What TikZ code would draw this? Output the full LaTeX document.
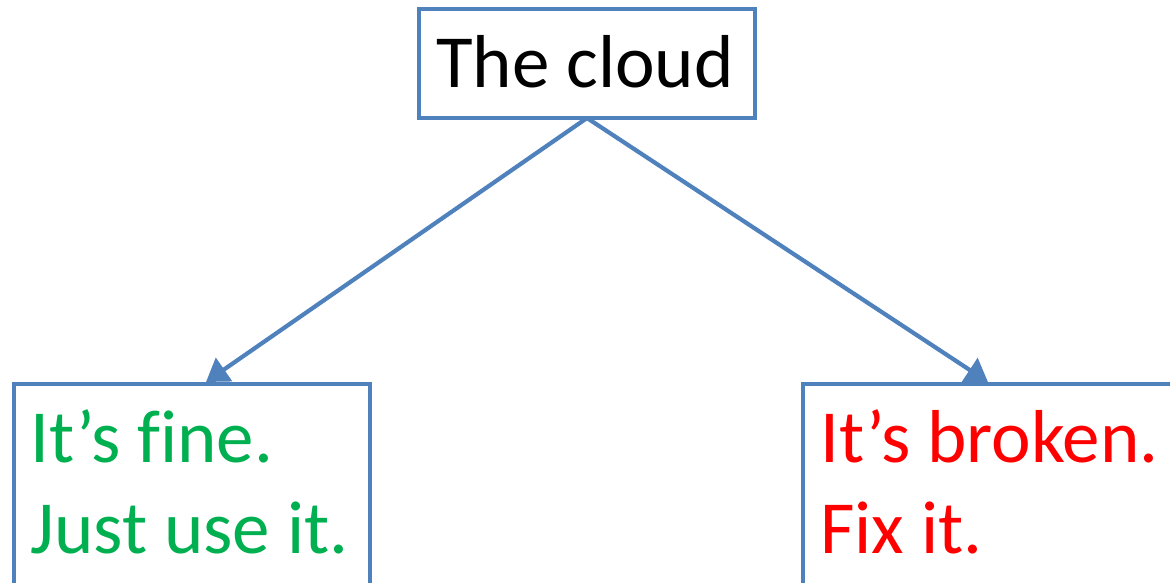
\documentclass[tikz,border=0pt]{standalone}
\usepackage{fontspec}
\setmainfont[Ligatures=NoCommon]{Carlito}
\usetikzlibrary{arrows.meta}
\definecolor{boxblue}{RGB}{79,129,189}
\definecolor{okgreen}{RGB}{0,176,80}
\definecolor{badred}{RGB}{255,0,0}
\tikzset{
  frame/.style={draw=boxblue, line width=4.2pt, fill=white, inner sep=0pt, outer sep=0pt},
  conn/.style={draw=boxblue, line width=4.2pt, -{Triangle[length=22pt,width=28pt]}},
  bigtext/.style={inner sep=0pt, font=\fontsize{75}{90}\selectfont},
  smalltext/.style={inner sep=0pt, anchor=base west, font=\fontsize{75}{91}\selectfont}
}
\begin{document}
\begin{tikzpicture}[x=1pt,y=1pt]
\useasboundingbox (0,0) rectangle (1170,-583);
\begin{scope}
\clip (0,0) rectangle (1170,-583);
\node[frame, minimum width=336pt, minimum height=109pt] (top) at (587,-63.5) {};
\node[frame, anchor=north west, minimum width=356pt, minimum height=260pt] (lbox) at (14,-384) {};
\node[frame, anchor=north west, minimum width=420pt, minimum height=260pt] (rbox) at (803,-384) {};
\end{scope}
\node[bigtext, anchor=base] (toptxt) at (585,-88) {The cloud};
\node[smalltext, text=okgreen] (l1) at (30,-462) {It’s fine.};
\node[smalltext, text=okgreen] (l2) at (30,-553) {Just use it.};
\node[smalltext, text=badred] (r1) at (820,-462) {It’s broken.};
\node[smalltext, text=badred] (r2) at (820,-553) {Fix it.};
\coordinate (la) at (206,-382);
\coordinate (ra) at (988,-382);
\draw[conn] (top.south) -- (la);
\draw[conn] (top.south) -- (ra);
\end{tikzpicture}
\end{document}
